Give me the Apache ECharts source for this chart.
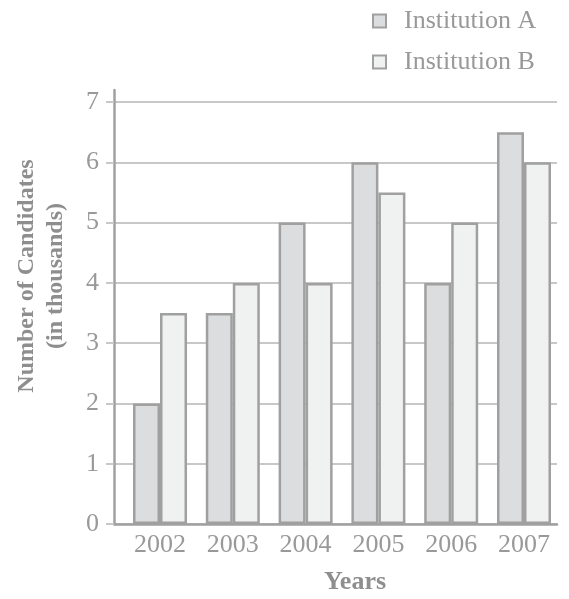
<!DOCTYPE html>
<html>
<head>
<meta charset="utf-8">
<script src="https://cdn.jsdelivr.net/npm/echarts@6/dist/echarts.min.js"></script>
<style>html,body{margin:0;padding:0;background:#fff;}#c{width:569px;height:599px;}</style>
</head>
<body>
<div id="c"></div>
<script>
var years = ['2002', '2003', '2004', '2005', '2006', '2007'];
var institutionA = [2, 3.5, 5, 6, 4, 6.5];
var institutionB = [3.5, 4, 4, 5.5, 5, 6];
var yTicks = [0, 1, 2, 3, 4, 5, 6, 7];

var idx = years.map(function (_, i) { return i; });
var font = '"Liberation Serif", "Times New Roman", serif';
var chart = echarts.init(document.getElementById('c'));
chart.setOption({
  animation: false,
  backgroundColor: '#fff',
  grid: { left: 114, right: 12, top: 90, bottom: 75, containLabel: false },
  legend: {
    orient: 'vertical', left: 372, top: 7, padding: 0,
    itemWidth: 13, itemHeight: 13, itemGap: 13,
    icon: 'rect',
    textStyle: { fontFamily: font, fontSize: 26, color: '#999', lineHeight: 28, padding: [0, 0, 0, 13] },
    data: ['Institution A', 'Institution B']
  },
  xAxis: {
    type: 'value', min: -0.632, max: 5.4533,
    axisLine: { show: true, onZero: false, lineStyle: { color: '#a0a0a0', width: 2.5 } },
    axisTick: { show: false },
    splitLine: { show: false },
    axisLabel: {
      customValues: idx, margin: 8,
      fontFamily: font, fontSize: 26, color: '#999',
      formatter: function (v) { return years[Math.round(v)]; }
    }
  },
  yAxis: {
    type: 'value', min: 0, max: 7.2,
    axisLine: { show: true, onZero: false, lineStyle: { color: '#a0a0a0', width: 2.5 } },
    axisTick: { show: true, customValues: yTicks, length: 8, lineStyle: { color: '#c8c8c8', width: 2 } },
    splitLine: { show: true, lineStyle: { color: '#c8c8c8', width: 2 } },
    axisLabel: { customValues: yTicks, margin: 15, fontFamily: font, fontSize: 26, color: '#999' }
  },
  series: [
    {
      name: 'Institution A', type: 'bar', barWidth: 27, barGap: '0%',
      itemStyle: { color: '#dcdddf', borderColor: '#a0a0a0', borderWidth: 2.5 },
      data: institutionA.map(function (v, i) { return [i, v]; })
    },
    {
      name: 'Institution B', type: 'bar', barWidth: 27, barGap: '0%',
      itemStyle: { color: '#f0f1f1', borderColor: '#a0a0a0', borderWidth: 2.5 },
      data: institutionB.map(function (v, i) { return [i, v]; })
    }
  ],
  graphic: [
    {
      type: 'text', x: 41, y: 276, rotation: Math.PI / 2,
      style: {
        text: 'Number of Candidates\n(in thousands)', align: 'center', verticalAlign: 'middle',
        font: 'bold 24px ' + font, fill: '#8e8e8e', lineHeight: 29
      }
    },
    {
      type: 'text', x: 355, y: 582,
      style: {
        text: 'Years', align: 'center', verticalAlign: 'middle',
        font: 'bold 26px ' + font, fill: '#8e8e8e'
      }
    }
  ]
});
</script>
</body>
</html>
